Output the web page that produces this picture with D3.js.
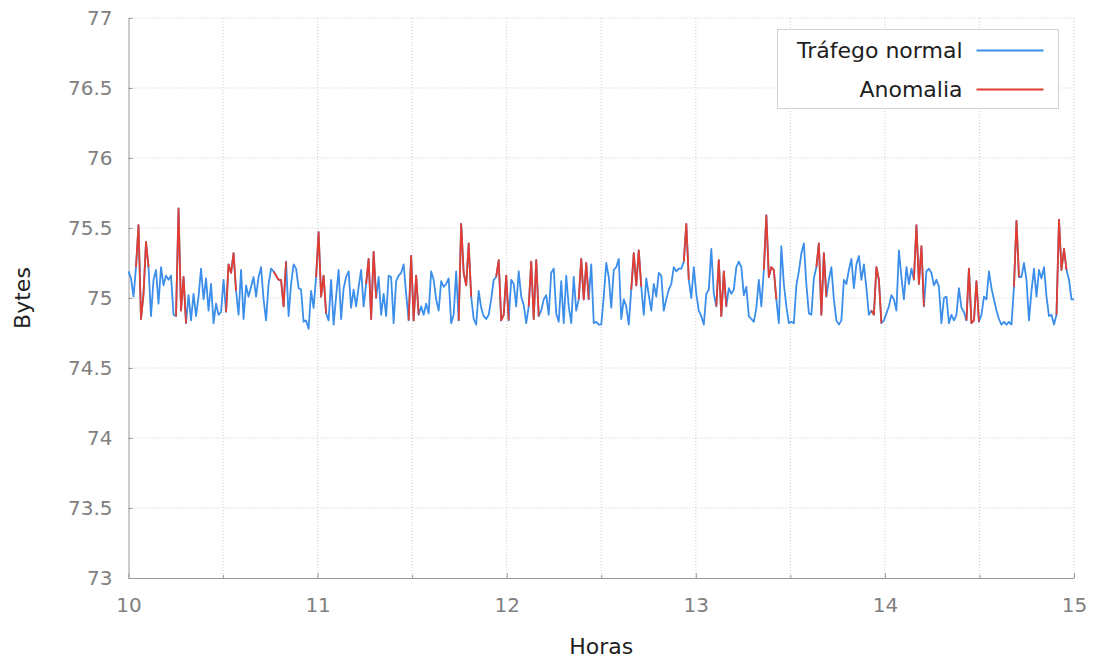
<!DOCTYPE html>
<html>
<head>
<meta charset="utf-8">
<script src="https://cdn.jsdelivr.net/npm/d3@7"></script>
<style>
    body { margin: 0; background: #fff; }
    svg { display: block; font-family: "DejaVu Sans", sans-serif; }
</style>
</head>
<body>
<div id="chart-area"></div>
<script>
// bytes medidos a intervalos regulares entre as 10h e as 15h
var inicio = 10, fim = 15;
var bytes = [
    75.19, 75.14, 75.01, 75.22, 75.52, 74.85, 75.03, 75.40, 75.22, 74.87,
    75.13, 75.20, 74.96, 75.22, 75.09, 75.16, 75.13, 75.16, 74.88, 74.87,
    75.64, 74.91, 75.15, 74.82, 75.02, 74.84, 75.03, 74.87, 75.01, 75.21,
    74.99, 75.14, 74.91, 75.10, 74.82, 74.96, 74.88, 74.90, 75.13, 74.90,
    75.24, 75.18, 75.32, 75.05, 74.88, 75.20, 74.85, 75.09, 75.01, 75.08,
    75.15, 75.01, 75.15, 75.22, 74.99, 74.84, 75.10, 75.21, 75.19, 75.16,
    75.13, 75.13, 74.94, 75.26, 74.87, 75.10, 75.24, 75.21, 75.07, 75.06,
    74.83, 74.84, 74.78, 75.05, 74.93, 75.15, 75.47, 75.01, 75.16, 74.89,
    74.84, 75.13, 74.81, 75.01, 75.20, 74.85, 75.07, 75.15, 75.19, 74.93,
    75.06, 74.94, 75.08, 75.20, 74.94, 75.10, 75.28, 74.85, 75.33, 75.00,
    75.15, 74.88, 75.03, 74.87, 75.16, 75.15, 74.82, 75.12, 75.16, 75.18,
    75.24, 75.03, 74.84, 75.30, 74.84, 75.16, 74.88, 74.94, 74.88, 74.96,
    74.89, 75.19, 75.13, 74.99, 74.91, 75.12, 75.08, 75.10, 75.14, 74.82,
    74.88, 75.19, 74.84, 75.53, 75.18, 75.09, 75.39, 75.01, 74.85, 74.81,
    75.05, 74.93, 74.87, 74.85, 74.88, 74.99, 75.13, 75.15, 75.27, 74.84,
    74.88, 75.16, 74.84, 75.13, 75.10, 74.94, 75.19, 75.01, 74.95, 74.82,
    74.94, 75.26, 74.85, 75.27, 74.87, 74.91, 74.99, 75.02, 74.88, 75.18,
    75.21, 74.89, 74.83, 75.12, 74.82, 75.16, 74.94, 74.82, 75.15, 74.91,
    74.99, 75.28, 74.99, 75.25, 74.99, 75.24, 74.82, 74.83, 74.81, 74.81,
    75.01, 75.25, 75.15, 74.93, 75.20, 75.22, 75.28, 74.85, 74.99, 74.94,
    74.81, 75.06, 75.32, 75.09, 75.34, 75.08, 74.88, 75.14, 75.02, 74.91,
    75.10, 75.01, 75.18, 75.16, 74.91, 74.99, 75.06, 75.10, 75.22, 75.19,
    75.21, 75.21, 75.26, 75.53, 75.13, 75.00, 75.22, 75.03, 74.91, 74.87,
    74.81, 75.03, 75.06, 75.35, 75.03, 74.94, 75.27, 74.87, 75.19, 74.94,
    75.07, 75.03, 75.06, 75.22, 75.26, 75.22, 75.02, 75.08, 74.87, 74.85,
    74.83, 74.93, 75.13, 74.94, 75.20, 75.59, 75.15, 75.22, 75.20, 74.99,
    74.82, 75.37, 75.10, 74.94, 74.82, 74.83, 74.82, 75.09, 75.19, 75.32,
    75.39, 75.10, 74.89, 74.88, 75.14, 75.22, 75.39, 74.88, 75.32, 75.01,
    75.13, 75.22, 74.99, 74.84, 74.81, 74.84, 75.13, 75.10, 75.20, 75.28,
    75.07, 75.24, 75.30, 75.13, 75.24, 75.07, 74.88, 74.91, 74.88, 75.22,
    75.13, 74.82, 74.84, 74.89, 74.94, 75.02, 74.99, 74.91, 75.34, 75.15,
    74.99, 75.22, 75.10, 75.21, 75.13, 75.52, 75.10, 75.37, 74.94, 75.19,
    75.21, 75.18, 75.09, 75.13, 75.08, 74.82, 75.00, 75.01, 74.82, 74.88,
    74.84, 74.88, 75.07, 74.93, 74.90, 74.84, 75.21, 74.82, 74.84, 75.12,
    74.83, 74.88, 75.01, 74.99, 75.19, 75.07, 74.99, 74.91, 74.85, 74.81,
    74.83, 74.81, 74.83, 74.81, 75.08, 75.55, 75.15, 75.15, 75.25, 75.13,
    74.84, 75.05, 75.21, 75.01, 75.20, 75.14, 75.22, 75.01, 74.87, 74.88,
    74.81, 74.88, 75.56, 75.20, 75.35, 75.20, 75.13, 74.99, 74.99
];

// trechos anómalos (índice inicial e final em bytes)
var anomalias = [
    [3, 8], [19, 23], [39, 43], [58, 63], [75, 79], [95, 99], [112, 116],
    [132, 137], [147, 152], [160, 164], [180, 184], [201, 205], [222, 224],
    [235, 239], [254, 259], [275, 279], [297, 301], [314, 318], [335, 340],
    [354, 356], [371, 375]
];

var xTicks = [10, 10.5, 11, 11.5, 12, 12.5, 13, 13.5, 14, 14.5, 15];
var yTicks = [73, 73.5, 74, 74.5, 75, 75.5, 76, 76.5, 77];
var series = ["Tráfego normal", "Anomalia"];
var cores = ["#3b8eea", "#e23d30"];

var margin = {left: 128.5, right: 21, top: 18, bottom: 81};
var width = 1095 - margin.left - margin.right,
    height = 659 - margin.top - margin.bottom;

var svg = d3.select("#chart-area")
    .append("svg")
    .attr("width", 1095)
    .attr("height", 659);

var g = svg.append("g")
    .attr("transform", "translate(" + margin.left + ", " + margin.top + ")");

var x = d3.scaleLinear()
    .domain([inicio, fim])
    .range([0, width]);

var y = d3.scaleLinear()
    .domain([73, 77])
    .range([height, 0]);

function hora(i) {
    return inicio + i * (fim - inicio) / (bytes.length - 1);
}

// dotted grid
g.append("g").selectAll("line")
    .data(xTicks.filter(function (t) { return t != inicio; }))
    .enter()
    .append("line")
    .attr("x1", function (t) { return x(t); })
    .attr("x2", function (t) { return x(t); })
    .attr("y1", 0)
    .attr("y2", height)
    .attr("stroke", "#cccccc")
    .attr("stroke-dasharray", "1,2");

g.append("g").selectAll("line")
    .data(yTicks.filter(function (t) { return t != 73; }))
    .enter()
    .append("line")
    .attr("x1", 0)
    .attr("x2", width)
    .attr("y1", function (t) { return y(t); })
    .attr("y2", function (t) { return y(t); })
    .attr("stroke", "#cccccc")
    .attr("stroke-dasharray", "1,2");

// X Axis
var xAxisCall = d3.axisBottom(x)
    .tickValues(xTicks)
    .tickSizeInner(-5)
    .tickSizeOuter(0)
    .tickPadding(20)
    .tickFormat(function (t) { return t % 1 == 0 ? d3.format("d")(t) : ""; });
var xAxis = g.append("g")
    .attr("class", "x axis")
    .attr("transform", "translate(0," + height + ")")
    .call(xAxisCall);
xAxis.selectAll(".tick line")
    .attr("y2", function (t) { return t % 1 == 0 ? -5 : -3; });

// Y Axis
var yAxisCall = d3.axisLeft(y)
    .tickValues(yTicks)
    .tickSizeInner(-4)
    .tickSizeOuter(0)
    .tickPadding(16)
    .tickFormat(d3.format("~g"));
var yAxis = g.append("g")
    .attr("class", "y axis")
    .call(yAxisCall);

g.selectAll(".axis path, .axis line").attr("stroke", "#9a9a9a");
g.selectAll(".axis text")
    .attr("fill", "#808080")
    .attr("font-size", "20px")
    .attr("font-family", "DejaVu Sans");

// normal traffic line
var line = d3.line()
    .x(function (d) { return x(d.hora); })
    .y(function (d) { return y(d.valor); });

var pontos = bytes.map(function (v, i) {
    return {hora: hora(i), valor: v};
});

g.append("path")
    .datum(pontos)
    .attr("fill", "none")
    .attr("stroke", cores[0])
    .attr("stroke-width", 1.8)
    .attr("stroke-linejoin", "round")
    .attr("d", line);

// anomalies drawn on top
g.selectAll(".anomalia")
    .data(anomalias)
    .enter()
    .append("path")
    .attr("class", "anomalia")
    .attr("fill", "none")
    .attr("stroke", cores[1])
    .attr("stroke-width", 1.8)
    .attr("stroke-linejoin", "round")
    .attr("d", function (a) { return line(pontos.slice(a[0], a[1] + 1)); });

// axis titles
svg.append("text")
    .attr("x", margin.left + width / 2)
    .attr("y", 654)
    .attr("text-anchor", "middle")
    .attr("font-size", "22px")
    .attr("fill", "#1e1e1e")
    .text("Horas");
svg.append("text")
    .attr("transform", "rotate(-90)")
    .attr("x", -(margin.top + height / 2))
    .attr("y", 30)
    .attr("text-anchor", "middle")
    .attr("font-size", "22px")
    .attr("fill", "#1e1e1e")
    .text("Bytes");

// legend
var legend = svg.append("g")
    .attr("transform", "translate(777.5, 29.5)");
legend.append("rect")
    .attr("width", 281)
    .attr("height", 79)
    .attr("fill", "#fff")
    .attr("stroke", "#d2d2d2");
var item = legend.selectAll(".item")
    .data(series)
    .enter()
    .append("g")
    .attr("class", "item")
    .attr("transform", function (s, i) { return "translate(0," + (21 + i * 39) + ")"; });
item.append("text")
    .attr("x", 185)
    .attr("dy", "0.35em")
    .attr("text-anchor", "end")
    .attr("font-size", "22px")
    .attr("fill", "#1e1e1e")
    .text(function (s) { return s; });
item.append("line")
    .attr("x1", 199)
    .attr("x2", 266)
    .attr("stroke", function (s, i) { return cores[i]; })
    .attr("stroke-width", 1.8);
</script>
</body>
</html>
